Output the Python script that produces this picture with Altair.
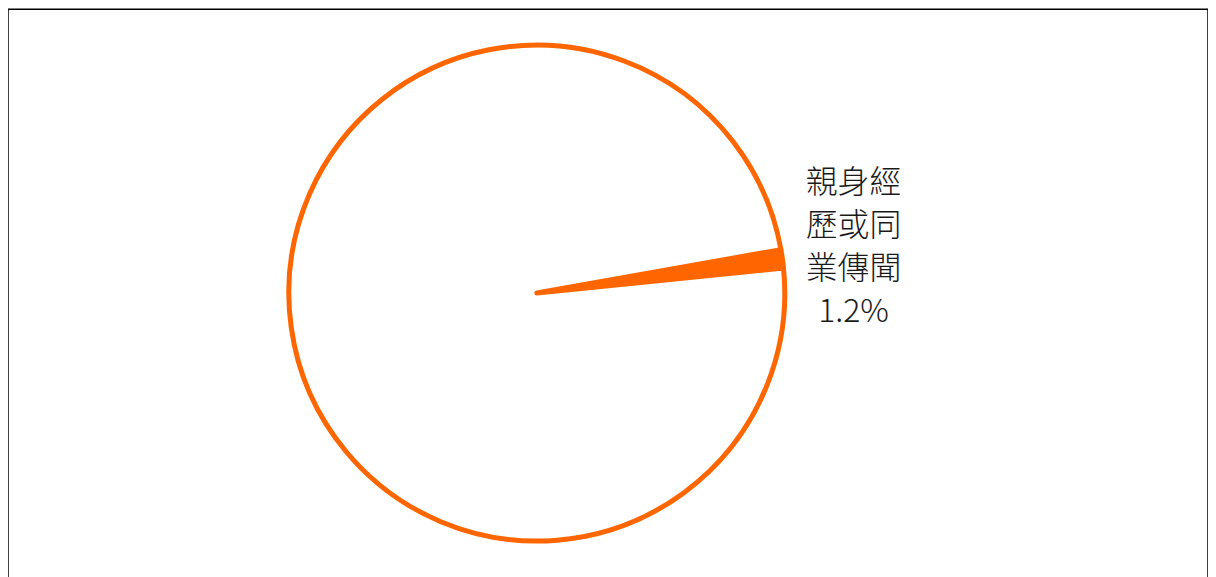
import math
import altair as alt
import pandas as pd

categories = ["親身經歷或同業傳聞", "其他"]
values = [1.2, 98.8]
fills = ["#FF6600", "#FFFFFF"]

df = pd.DataFrame({"category": categories, "value": values, "order": [0, 1]})

start = math.radians(79.9)

base = alt.Chart(df)

pie = base.mark_arc(
    radius=249, stroke="#FF6600", strokeWidth=5, strokeJoin="round"
).encode(
    theta=alt.Theta("value:Q", stack=True,
                    scale=alt.Scale(range=[start, start + 2 * math.pi])),
    order=alt.Order("order:Q"),
    color=alt.Color("category:N", scale=alt.Scale(domain=categories, range=fills), legend=None),
    x=alt.value(531),
    y=alt.value(285),
)

label_df = pd.DataFrame({
    "label": [[categories[0][0:3], categories[0][3:6], categories[0][6:9], f"{values[0]}%"]]
})

label = alt.Chart(label_df).mark_text(
    font="Noto Sans CJK TC", fontSize=32, fontWeight=300, lineHeight=43, align="center",
    baseline="middle", color="#1a1a1a"
).encode(
    text="label",
    x=alt.value(849),
    y=alt.value(175),
)

chart = alt.layer(pie, label).properties(
    width=1205, height=600, padding=0
).configure_view(stroke="#000000", strokeWidth=1.5)

chart.save("out.html", embed_options={"renderer": "svg", "actions": False})
